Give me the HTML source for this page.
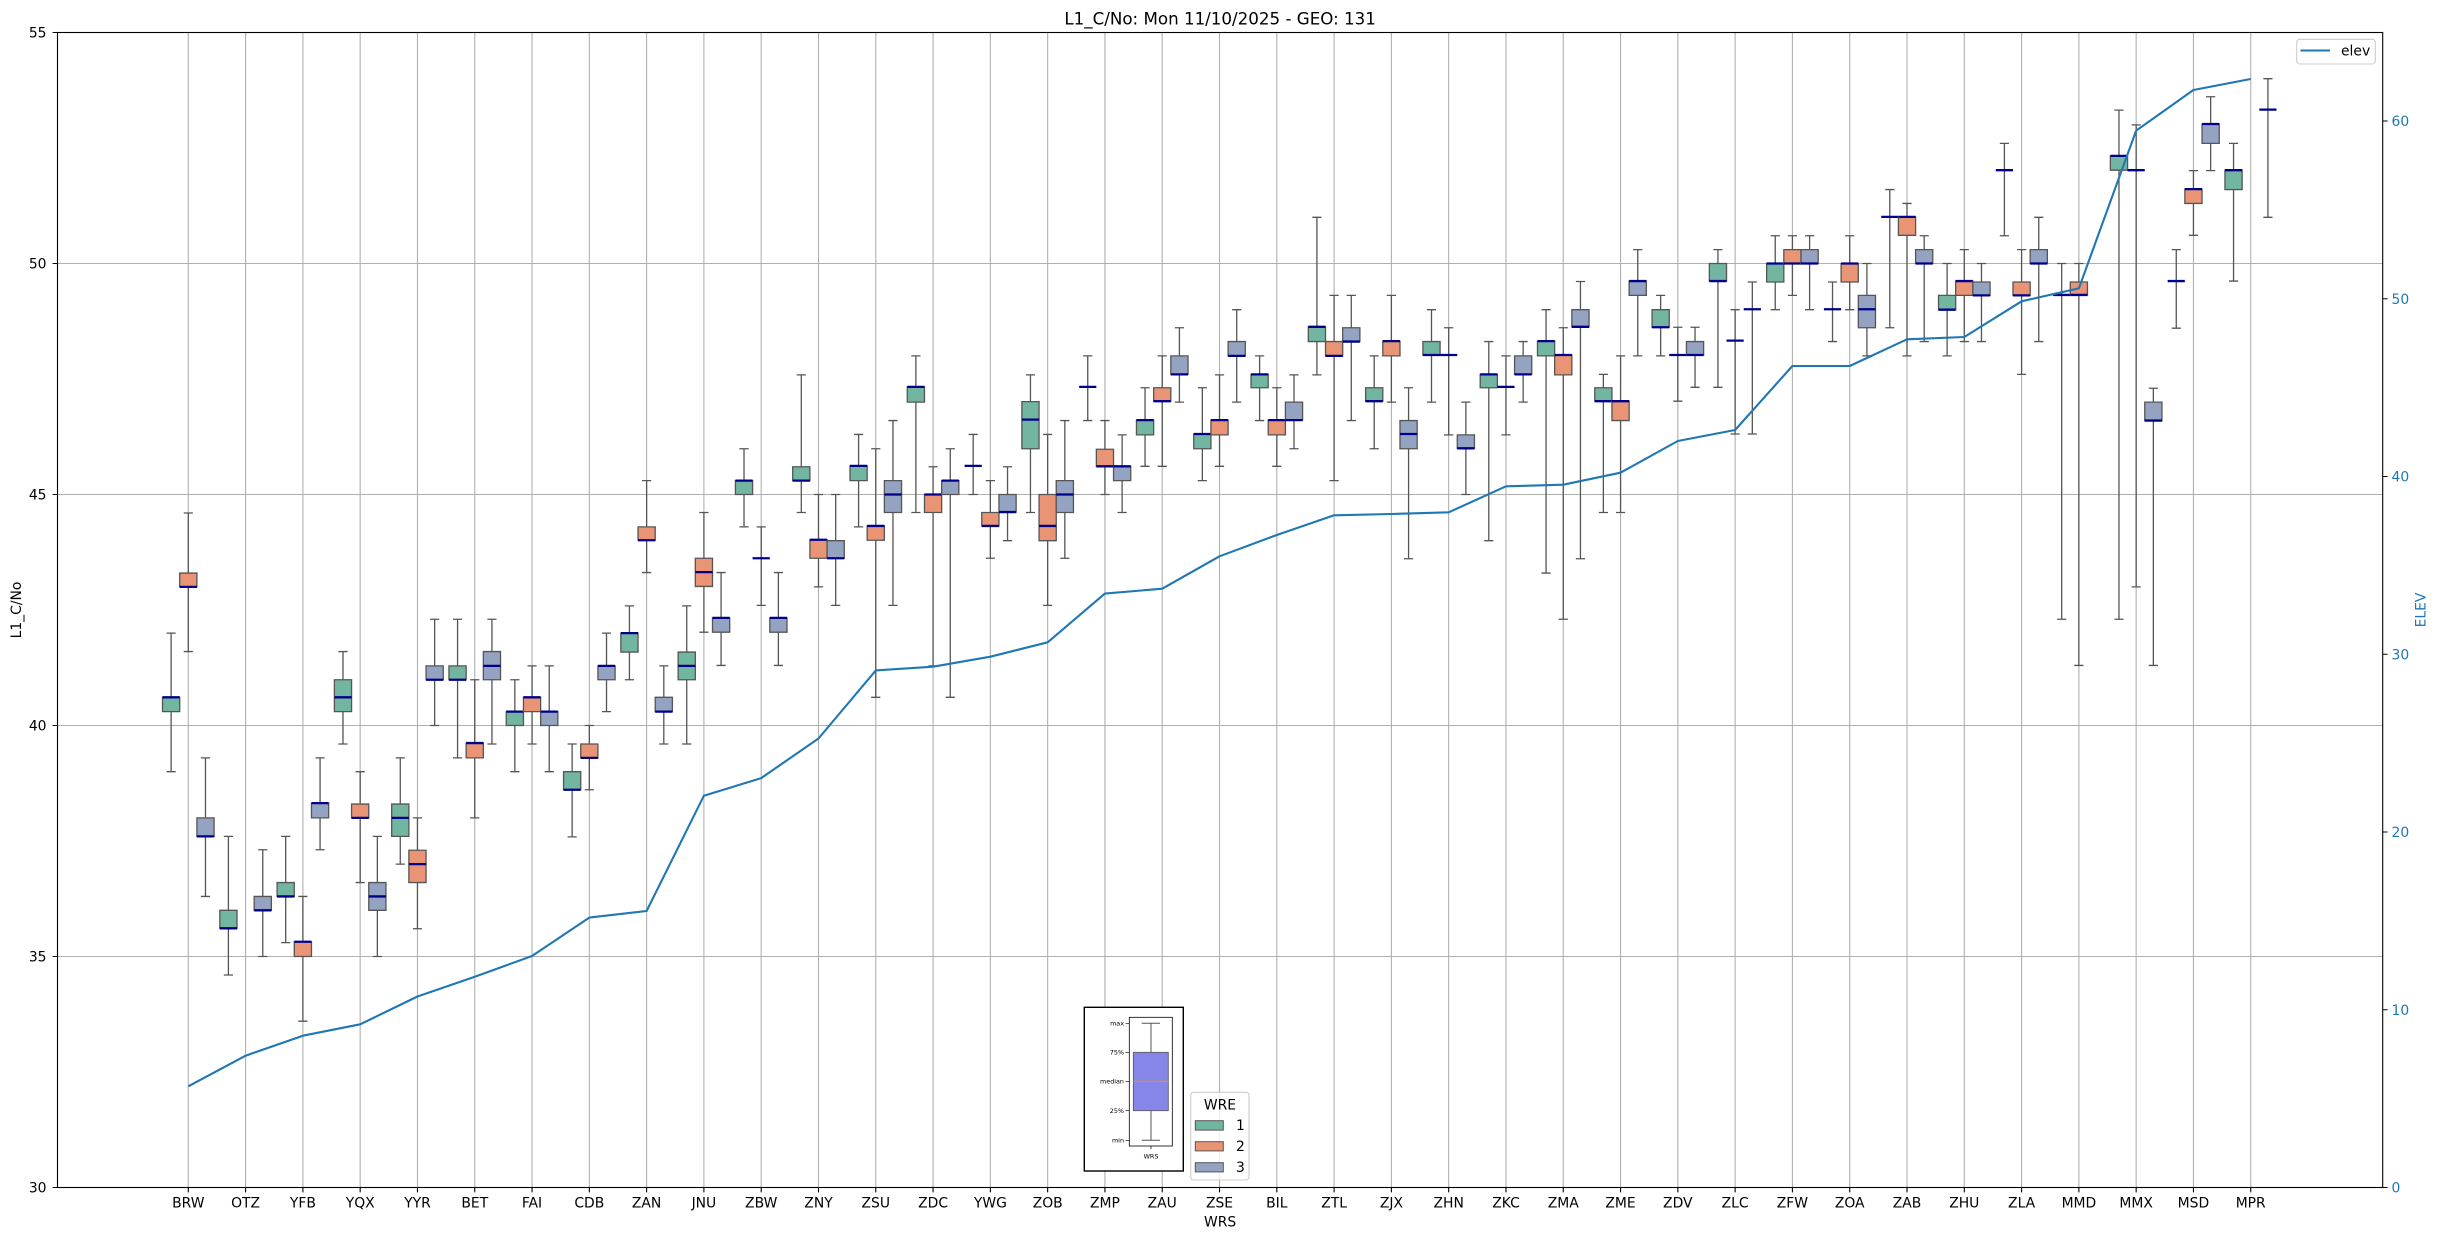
<!DOCTYPE html>
<html><head><meta charset="utf-8"><title>L1_C/No</title>
<style>
html,body{margin:0;padding:0;background:#fff;}
svg{display:block;font-family:"DejaVu Sans","Liberation Sans",sans-serif;}
#d path{fill:none;stroke:#555;stroke-width:1.3;vector-effect:non-scaling-stroke;}
#d rect{stroke:#555;stroke-width:1.3;vector-effect:non-scaling-stroke;}
#d .m{stroke:#00008b;stroke-width:2.3;}
#d .g{stroke:#b0b0b0;stroke-width:1.1;}
#d .t{stroke:#000;stroke-width:1.1;}
.a rect{fill:#72b6a1}.b rect{fill:#e99575}.c rect{fill:#95a3c3}
.tl{font-size:13.9px;fill:#000;}
.tr{font-size:13.9px;fill:#1f77b4;}
</style></head><body>
<svg width="2438" height="1240" viewBox="0 0 2438 1240" xmlns="http://www.w3.org/2000/svg">
<rect x="0" y="0" width="2438" height="1240" fill="#fff"/>
<!-- horizontal grid -->
<path d="M57.5 263.5H2382.7M57.5 494.5H2382.7M57.5 725.5H2382.7M57.5 956.5H2382.7" stroke="#b0b0b0" stroke-width="1.1" fill="none"/>
<g id="d" transform="matrix(57.29 0 0 -46.2 188.3 2573.5)">
<path class="g" d="M0 30V55M1 30V55M2 30V55M3 30V55M4 30V55M5 30V55M6 30V55M7 30V55M8 30V55M9 30V55M10 30V55M11 30V55M12 30V55M13 30V55M14 30V55M15 30V55M16 30V55M17 30V55M18 30V55M19 30V55M20 30V55M21 30V55M22 30V55M23 30V55M24 30V55M25 30V55M26 30V55M27 30V55M28 30V55M29 30V55M30 30V55M31 30V55M32 30V55M33 30V55M34 30V55M35 30V55M36 30V55"/>
<path class="t" d="M0 30V29.894M1 30V29.894M2 30V29.894M3 30V29.894M4 30V29.894M5 30V29.894M6 30V29.894M7 30V29.894M8 30V29.894M9 30V29.894M10 30V29.894M11 30V29.894M12 30V29.894M13 30V29.894M14 30V29.894M15 30V29.894M16 30V29.894M17 30V29.894M18 30V29.894M19 30V29.894M20 30V29.894M21 30V29.894M22 30V29.894M23 30V29.894M24 30V29.894M25 30V29.894M26 30V29.894M27 30V29.894M28 30V29.894M29 30V29.894M30 30V29.894M31 30V29.894M32 30V29.894M33 30V29.894M34 30V29.894M35 30V29.894M36 30V29.894"/>

<!-- BRW -->
<g transform="translate(0)">
<g class="a" transform="translate(-.3)"><path d="M-.08 39H.08M0 39V42M-.08 42H.08"/><rect x="-.15" y="40.3" width=".3" height=".31"/><path class="m" d="M-.15 40.61H.15"/></g>
<g class="b"><path d="M-.08 41.6H.08M0 41.6V44.6M-.08 44.6H.08"/><rect x="-.15" y="43" width=".3" height=".3"/><path class="m" d="M-.15 43H.15"/></g>
<g class="c" transform="translate(.3)"><path d="M-.08 36.3H.08M0 36.3V39.3M-.08 39.3H.08"/><rect x="-.15" y="37.6" width=".3" height=".4"/><path class="m" d="M-.15 37.6H.15"/></g>
</g>
<!-- OTZ -->
<g transform="translate(1)">
<g class="a" transform="translate(-.3)"><path d="M-.08 34.6H.08M0 34.6V37.6M-.08 37.6H.08"/><rect x="-.15" y="35.61" width=".3" height=".39"/><path class="m" d="M-.15 35.61H.15"/></g>
<g class="c" transform="translate(.3)"><path d="M-.08 35H.08M0 35V37.31M-.08 37.31H.08"/><rect x="-.15" y="36" width=".3" height=".3"/><path class="m" d="M-.15 36H.15"/></g>
</g>
<!-- YFB -->
<g transform="translate(2)">
<g class="a" transform="translate(-.3)"><path d="M-.08 35.3H.08M0 35.3V37.6M-.08 37.6H.08"/><rect x="-.15" y="36.3" width=".3" height=".3"/><path class="m" d="M-.15 36.3H.15"/></g>
<g class="b"><path d="M-.08 33.6H.08M0 33.6V36.3M-.08 36.3H.08"/><rect x="-.15" y="35" width=".3" height=".32"/><path class="m" d="M-.15 35.32H.15"/></g>
<g class="c" transform="translate(.3)"><path d="M-.08 37.31H.08M0 37.31V39.3M-.08 39.3H.08"/><rect x="-.15" y="38" width=".3" height=".32"/><path class="m" d="M-.15 38.32H.15"/></g>
</g>
<!-- YQX -->
<g transform="translate(3)">
<g class="a" transform="translate(-.3)"><path d="M-.08 39.6H.08M0 39.6V41.6M-.08 41.6H.08"/><rect x="-.15" y="40.3" width=".3" height=".69"/><path class="m" d="M-.15 40.61H.15"/></g>
<g class="b"><path d="M-.08 36.6H.08M0 36.6V39M-.08 39H.08"/><rect x="-.15" y="38" width=".3" height=".3"/><path class="m" d="M-.15 38H.15"/></g>
<g class="c" transform="translate(.3)"><path d="M-.08 35H.08M0 35V37.6M-.08 37.6H.08"/><rect x="-.15" y="36" width=".3" height=".6"/><path class="m" d="M-.15 36.3H.15"/></g>
</g>
<!-- YYR -->
<g transform="translate(4)">
<g class="a" transform="translate(-.3)"><path d="M-.08 37H.08M0 37V39.3M-.08 39.3H.08"/><rect x="-.15" y="37.6" width=".3" height=".7"/><path class="m" d="M-.15 38H.15"/></g>
<g class="b"><path d="M-.08 35.6H.08M0 35.6V38M-.08 38H.08"/><rect x="-.15" y="36.6" width=".3" height=".7"/><path class="m" d="M-.15 37H.15"/></g>
<g class="c" transform="translate(.3)"><path d="M-.08 40H.08M0 40V42.3M-.08 42.3H.08"/><rect x="-.15" y="40.99" width=".3" height=".3"/><path class="m" d="M-.15 40.99H.15"/></g>
</g>
<!-- BET -->
<g transform="translate(5)">
<g class="a" transform="translate(-.3)"><path d="M-.08 39.3H.08M0 39.3V42.3M-.08 42.3H.08"/><rect x="-.15" y="40.99" width=".3" height=".3"/><path class="m" d="M-.15 40.99H.15"/></g>
<g class="b"><path d="M-.08 38H.08M0 38V40.99M-.08 40.99H.08"/><rect x="-.15" y="39.3" width=".3" height=".32"/><path class="m" d="M-.15 39.62H.15"/></g>
<g class="c" transform="translate(.3)"><path d="M-.08 39.6H.08M0 39.6V42.3M-.08 42.3H.08"/><rect x="-.15" y="40.99" width=".3" height=".61"/><path class="m" d="M-.15 41.29H.15"/></g>
</g>
<!-- FAI -->
<g transform="translate(6)">
<g class="a" transform="translate(-.3)"><path d="M-.08 39H.08M0 39V40.99M-.08 40.99H.08"/><rect x="-.15" y="40" width=".3" height=".3"/><path class="m" d="M-.15 40.3H.15"/></g>
<g class="b"><path d="M-.08 39.6H.08M0 39.6V41.29M-.08 41.29H.08"/><rect x="-.15" y="40.3" width=".3" height=".31"/><path class="m" d="M-.15 40.61H.15"/></g>
<g class="c" transform="translate(.3)"><path d="M-.08 39H.08M0 39V41.29M-.08 41.29H.08"/><rect x="-.15" y="40" width=".3" height=".3"/><path class="m" d="M-.15 40.3H.15"/></g>
</g>
<!-- CDB -->
<g transform="translate(7)">
<g class="a" transform="translate(-.3)"><path d="M-.08 37.59H.08M0 37.59V39.6M-.08 39.6H.08"/><rect x="-.15" y="38.61" width=".3" height=".39"/><path class="m" d="M-.15 38.61H.15"/></g>
<g class="b"><path d="M-.08 38.61H.08M0 38.61V40M-.08 40H.08"/><rect x="-.15" y="39.3" width=".3" height=".3"/><path class="m" d="M-.15 39.3H.15"/></g>
<g class="c" transform="translate(.3)"><path d="M-.08 40.3H.08M0 40.3V42M-.08 42H.08"/><rect x="-.15" y="40.99" width=".3" height=".3"/><path class="m" d="M-.15 41.29H.15"/></g>
</g>
<!-- ZAN -->
<g transform="translate(8)">
<g class="a" transform="translate(-.3)"><path d="M-.08 40.99H.08M0 40.99V42.59M-.08 42.59H.08"/><rect x="-.15" y="41.59" width=".3" height=".41"/><path class="m" d="M-.15 42H.15"/></g>
<g class="b"><path d="M-.08 43.31H.08M0 43.31V45.3M-.08 45.3H.08"/><rect x="-.15" y="44.01" width=".3" height=".29"/><path class="m" d="M-.15 44.01H.15"/></g>
<g class="c" transform="translate(.3)"><path d="M-.08 39.6H.08M0 39.6V41.29M-.08 41.29H.08"/><rect x="-.15" y="40.3" width=".3" height=".31"/><path class="m" d="M-.15 40.3H.15"/></g>
</g>
<!-- JNU -->
<g transform="translate(9)">
<g class="a" transform="translate(-.3)"><path d="M-.08 39.6H.08M0 39.6V42.59M-.08 42.59H.08"/><rect x="-.15" y="40.99" width=".3" height=".6"/><path class="m" d="M-.15 41.29H.15"/></g>
<g class="b"><path d="M-.08 42.02H.08M0 42.02V44.61M-.08 44.61H.08"/><rect x="-.15" y="43.01" width=".3" height=".61"/><path class="m" d="M-.15 43.32H.15"/></g>
<g class="c" transform="translate(.3)"><path d="M-.08 41.3H.08M0 41.3V43.31M-.08 43.31H.08"/><rect x="-.15" y="42.02" width=".3" height=".31"/><path class="m" d="M-.15 42.33H.15"/></g>
</g>
<!-- ZBW -->
<g transform="translate(10)">
<g class="a" transform="translate(-.3)"><path d="M-.08 44.3H.08M0 44.3V45.99M-.08 45.99H.08"/><rect x="-.15" y="45" width=".3" height=".3"/><path class="m" d="M-.15 45.3H.15"/></g>
<g class="b"><path d="M-.08 42.6H.08M0 42.6V44.3M-.08 44.3H.08"/><path class="m" d="M-.15 43.62H.15"/></g>
<g class="c" transform="translate(.3)"><path d="M-.08 41.3H.08M0 41.3V43.31M-.08 43.31H.08"/><rect x="-.15" y="42.02" width=".3" height=".31"/><path class="m" d="M-.15 42.33H.15"/></g>
</g>
<!-- ZNY -->
<g transform="translate(11)">
<g class="a" transform="translate(-.3)"><path d="M-.08 44.61H.08M0 44.61V47.59M-.08 47.59H.08"/><rect x="-.15" y="45.3" width=".3" height=".3"/><path class="m" d="M-.15 45.3H.15"/></g>
<g class="b"><path d="M-.08 43H.08M0 43V45M-.08 45H.08"/><rect x="-.15" y="43.62" width=".3" height=".4"/><path class="m" d="M-.15 44.02H.15"/></g>
<g class="c" transform="translate(.3)"><path d="M-.08 42.6H.08M0 42.6V45M-.08 45H.08"/><rect x="-.15" y="43.62" width=".3" height=".38"/><path class="m" d="M-.15 43.62H.15"/></g>
</g>
<!-- ZSU -->
<g transform="translate(12)">
<g class="a" transform="translate(-.3)"><path d="M-.08 44.3H.08M0 44.3V46.3M-.08 46.3H.08"/><rect x="-.15" y="45.3" width=".3" height=".32"/><path class="m" d="M-.15 45.62H.15"/></g>
<g class="b"><path d="M-.08 40.61H.08M0 40.61V45.99M-.08 45.99H.08"/><rect x="-.15" y="44.01" width=".3" height=".31"/><path class="m" d="M-.15 44.32H.15"/></g>
<g class="c" transform="translate(.3)"><path d="M-.08 42.6H.08M0 42.6V46.6M-.08 46.6H.08"/><rect x="-.15" y="44.61" width=".3" height=".69"/><path class="m" d="M-.15 45H.15"/></g>
</g>
<!-- ZDC -->
<g transform="translate(13)">
<g class="a" transform="translate(-.3)"><path d="M-.08 44.61H.08M0 44.61V48M-.08 48H.08"/><rect x="-.15" y="47" width=".3" height=".33"/><path class="m" d="M-.15 47.33H.15"/></g>
<g class="b"><path d="M-.08 41.29H.08M0 41.29V45.6M-.08 45.6H.08"/><rect x="-.15" y="44.61" width=".3" height=".39"/><path class="m" d="M-.15 45H.15"/></g>
<g class="c" transform="translate(.3)"><path d="M-.08 40.61H.08M0 40.61V45.99M-.08 45.99H.08"/><rect x="-.15" y="45" width=".3" height=".3"/><path class="m" d="M-.15 45.3H.15"/></g>
</g>
<!-- YWG -->
<g transform="translate(14)">
<g class="a" transform="translate(-.3)"><path d="M-.08 45H.08M0 45V46.3M-.08 46.3H.08"/><path class="m" d="M-.15 45.62H.15"/></g>
<g class="b"><path d="M-.08 43.62H.08M0 43.62V45.3M-.08 45.3H.08"/><rect x="-.15" y="44.32" width=".3" height=".29"/><path class="m" d="M-.15 44.32H.15"/></g>
<g class="c" transform="translate(.3)"><path d="M-.08 44H.08M0 44V45.6M-.08 45.6H.08"/><rect x="-.15" y="44.62" width=".3" height=".38"/><path class="m" d="M-.15 44.62H.15"/></g>
</g>
<!-- ZOB -->
<g transform="translate(15)">
<g class="a" transform="translate(-.3)"><path d="M-.08 44.61H.08M0 44.61V47.59M-.08 47.59H.08"/><rect x="-.15" y="45.99" width=".3" height="1.02"/><path class="m" d="M-.15 46.62H.15"/></g>
<g class="b"><path d="M-.08 42.6H.08M0 42.6V46.3M-.08 46.3H.08"/><rect x="-.15" y="44" width=".3" height="1"/><path class="m" d="M-.15 44.32H.15"/></g>
<g class="c" transform="translate(.3)"><path d="M-.08 43.62H.08M0 43.62V46.6M-.08 46.6H.08"/><rect x="-.15" y="44.61" width=".3" height=".69"/><path class="m" d="M-.15 45H.15"/></g>
</g>
<!-- ZMP -->
<g transform="translate(16)">
<g class="a" transform="translate(-.3)"><path d="M-.08 46.6H.08M0 46.6V48M-.08 48H.08"/><path class="m" d="M-.15 47.33H.15"/></g>
<g class="b"><path d="M-.08 45H.08M0 45V46.6M-.08 46.6H.08"/><rect x="-.15" y="45.61" width=".3" height=".37"/><path class="m" d="M-.15 45.61H.15"/></g>
<g class="c" transform="translate(.3)"><path d="M-.08 44.61H.08M0 44.61V46.29M-.08 46.29H.08"/><rect x="-.15" y="45.3" width=".3" height=".31"/><path class="m" d="M-.15 45.61H.15"/></g>
</g>
<!-- ZAU -->
<g transform="translate(17)">
<g class="a" transform="translate(-.3)"><path d="M-.08 45.61H.08M0 45.61V47.31M-.08 47.31H.08"/><rect x="-.15" y="46.29" width=".3" height=".32"/><path class="m" d="M-.15 46.61H.15"/></g>
<g class="b"><path d="M-.08 45.61H.08M0 45.61V48M-.08 48H.08"/><rect x="-.15" y="47.02" width=".3" height=".29"/><path class="m" d="M-.15 47.02H.15"/></g>
<g class="c" transform="translate(.3)"><path d="M-.08 47H.08M0 47V48.61M-.08 48.61H.08"/><rect x="-.15" y="47.6" width=".3" height=".4"/><path class="m" d="M-.15 47.6H.15"/></g>
</g>
<!-- ZSE -->
<g transform="translate(18)">
<g class="a" transform="translate(-.3)"><path d="M-.08 45.3H.08M0 45.3V47.31M-.08 47.31H.08"/><rect x="-.15" y="45.99" width=".3" height=".32"/><path class="m" d="M-.15 46.31H.15"/></g>
<g class="b"><path d="M-.08 45.61H.08M0 45.61V47.59M-.08 47.59H.08"/><rect x="-.15" y="46.29" width=".3" height=".32"/><path class="m" d="M-.15 46.61H.15"/></g>
<g class="c" transform="translate(.3)"><path d="M-.08 47H.08M0 47V49M-.08 49H.08"/><rect x="-.15" y="48" width=".3" height=".31"/><path class="m" d="M-.15 48H.15"/></g>
</g>
<!-- BIL -->
<g transform="translate(19)">
<g class="a" transform="translate(-.3)"><path d="M-.08 46.6H.08M0 46.6V48M-.08 48H.08"/><rect x="-.15" y="47.31" width=".3" height=".29"/><path class="m" d="M-.15 47.6H.15"/></g>
<g class="b"><path d="M-.08 45.61H.08M0 45.61V47.31M-.08 47.31H.08"/><rect x="-.15" y="46.29" width=".3" height=".32"/><path class="m" d="M-.15 46.61H.15"/></g>
<g class="c" transform="translate(.3)"><path d="M-.08 45.99H.08M0 45.99V47.59M-.08 47.59H.08"/><rect x="-.15" y="46.61" width=".3" height=".39"/><path class="m" d="M-.15 46.61H.15"/></g>
</g>
<!-- ZTL -->
<g transform="translate(20)">
<g class="a" transform="translate(-.3)"><path d="M-.08 47.59H.08M0 47.59V51M-.08 51H.08"/><rect x="-.15" y="48.31" width=".3" height=".32"/><path class="m" d="M-.15 48.63H.15"/></g>
<g class="b"><path d="M-.08 45.3H.08M0 45.3V49.31M-.08 49.31H.08"/><rect x="-.15" y="48" width=".3" height=".31"/><path class="m" d="M-.15 48H.15"/></g>
<g class="c" transform="translate(.3)"><path d="M-.08 46.6H.08M0 46.6V49.31M-.08 49.31H.08"/><rect x="-.15" y="48.31" width=".3" height=".3"/><path class="m" d="M-.15 48.31H.15"/></g>
</g>
<!-- ZJX -->
<g transform="translate(21)">
<g class="a" transform="translate(-.3)"><path d="M-.08 45.99H.08M0 45.99V48M-.08 48H.08"/><rect x="-.15" y="47.02" width=".3" height=".29"/><path class="m" d="M-.15 47.02H.15"/></g>
<g class="b"><path d="M-.08 47H.08M0 47V49.31M-.08 49.31H.08"/><rect x="-.15" y="48" width=".3" height=".32"/><path class="m" d="M-.15 48.32H.15"/></g>
<g class="c" transform="translate(.3)"><path d="M-.08 43.61H.08M0 43.61V47.31M-.08 47.31H.08"/><rect x="-.15" y="45.99" width=".3" height=".61"/><path class="m" d="M-.15 46.31H.15"/></g>
</g>
<!-- ZHN -->
<g transform="translate(22)">
<g class="a" transform="translate(-.3)"><path d="M-.08 47H.08M0 47V49M-.08 49H.08"/><rect x="-.15" y="48.02" width=".3" height=".29"/><path class="m" d="M-.15 48.02H.15"/></g>
<g class="b"><path d="M-.08 46.29H.08M0 46.29V48.61M-.08 48.61H.08"/><path class="m" d="M-.15 48.02H.15"/></g>
<g class="c" transform="translate(.3)"><path d="M-.08 45H.08M0 45V47M-.08 47H.08"/><rect x="-.15" y="46" width=".3" height=".29"/><path class="m" d="M-.15 46H.15"/></g>
</g>
<!-- ZKC -->
<g transform="translate(23)">
<g class="a" transform="translate(-.3)"><path d="M-.08 44H.08M0 44V48.31M-.08 48.31H.08"/><rect x="-.15" y="47.31" width=".3" height=".29"/><path class="m" d="M-.15 47.6H.15"/></g>
<g class="b"><path d="M-.08 46.29H.08M0 46.29V48M-.08 48H.08"/><path class="m" d="M-.15 47.33H.15"/></g>
<g class="c" transform="translate(.3)"><path d="M-.08 47H.08M0 47V48.31M-.08 48.31H.08"/><rect x="-.15" y="47.6" width=".3" height=".4"/><path class="m" d="M-.15 47.6H.15"/></g>
</g>
<!-- ZMA -->
<g transform="translate(24)">
<g class="a" transform="translate(-.3)"><path d="M-.08 43.3H.08M0 43.3V49M-.08 49H.08"/><rect x="-.15" y="48" width=".3" height=".32"/><path class="m" d="M-.15 48.32H.15"/></g>
<g class="b"><path d="M-.08 42.3H.08M0 42.3V48.61M-.08 48.61H.08"/><rect x="-.15" y="47.59" width=".3" height=".43"/><path class="m" d="M-.15 48.02H.15"/></g>
<g class="c" transform="translate(.3)"><path d="M-.08 43.61H.08M0 43.61V49.61M-.08 49.61H.08"/><rect x="-.15" y="48.63" width=".3" height=".37"/><path class="m" d="M-.15 48.63H.15"/></g>
</g>
<!-- ZME -->
<g transform="translate(25)">
<g class="a" transform="translate(-.3)"><path d="M-.08 44.61H.08M0 44.61V47.6M-.08 47.6H.08"/><rect x="-.15" y="47.02" width=".3" height=".29"/><path class="m" d="M-.15 47.02H.15"/></g>
<g class="b"><path d="M-.08 44.61H.08M0 44.61V48M-.08 48H.08"/><rect x="-.15" y="46.6" width=".3" height=".42"/><path class="m" d="M-.15 47.02H.15"/></g>
<g class="c" transform="translate(.3)"><path d="M-.08 48H.08M0 48V50.3M-.08 50.3H.08"/><rect x="-.15" y="49.31" width=".3" height=".31"/><path class="m" d="M-.15 49.62H.15"/></g>
</g>
<!-- ZDV -->
<g transform="translate(26)">
<g class="a" transform="translate(-.3)"><path d="M-.08 48H.08M0 48V49.31M-.08 49.31H.08"/><rect x="-.15" y="48.62" width=".3" height=".38"/><path class="m" d="M-.15 48.62H.15"/></g>
<g class="b"><path d="M-.08 47.02H.08M0 47.02V48.62M-.08 48.62H.08"/><path class="m" d="M-.15 48.02H.15"/></g>
<g class="c" transform="translate(.3)"><path d="M-.08 47.32H.08M0 47.32V48.62M-.08 48.62H.08"/><rect x="-.15" y="48.02" width=".3" height=".29"/><path class="m" d="M-.15 48.02H.15"/></g>
</g>
<!-- ZLC -->
<g transform="translate(27)">
<g class="a" transform="translate(-.3)"><path d="M-.08 47.32H.08M0 47.32V50.3M-.08 50.3H.08"/><rect x="-.15" y="49.62" width=".3" height=".38"/><path class="m" d="M-.15 49.62H.15"/></g>
<g class="b"><path d="M-.08 46.31H.08M0 46.31V49M-.08 49H.08"/><path class="m" d="M-.15 48.33H.15"/></g>
<g class="c" transform="translate(.3)"><path d="M-.08 46.31H.08M0 46.31V49.6M-.08 49.6H.08"/><path class="m" d="M-.15 49.01H.15"/></g>
</g>
<!-- ZFW -->
<g transform="translate(28)">
<g class="a" transform="translate(-.3)"><path d="M-.08 49H.08M0 49V50.6M-.08 50.6H.08"/><rect x="-.15" y="49.6" width=".3" height=".4"/><path class="m" d="M-.15 50H.15"/></g>
<g class="b"><path d="M-.08 49.31H.08M0 49.31V50.6M-.08 50.6H.08"/><rect x="-.15" y="50" width=".3" height=".3"/><path class="m" d="M-.15 50H.15"/></g>
<g class="c" transform="translate(.3)"><path d="M-.08 49H.08M0 49V50.6M-.08 50.6H.08"/><rect x="-.15" y="50" width=".3" height=".3"/><path class="m" d="M-.15 50H.15"/></g>
</g>
<!-- ZOA -->
<g transform="translate(29)">
<g class="a" transform="translate(-.3)"><path d="M-.08 48.31H.08M0 48.31V49.6M-.08 49.6H.08"/><path class="m" d="M-.15 49.01H.15"/></g>
<g class="b"><path d="M-.08 49H.08M0 49V50.6M-.08 50.6H.08"/><rect x="-.15" y="49.6" width=".3" height=".4"/><path class="m" d="M-.15 50H.15"/></g>
<g class="c" transform="translate(.3)"><path d="M-.08 48H.08M0 48V50M-.08 50H.08"/><rect x="-.15" y="48.61" width=".3" height=".7"/><path class="m" d="M-.15 49.01H.15"/></g>
</g>
<!-- ZAB -->
<g transform="translate(30)">
<g class="a" transform="translate(-.3)"><path d="M-.08 48.61H.08M0 48.61V51.6M-.08 51.6H.08"/><path class="m" d="M-.15 51.01H.15"/></g>
<g class="b"><path d="M-.08 48H.08M0 48V51.3M-.08 51.3H.08"/><rect x="-.15" y="50.61" width=".3" height=".4"/><path class="m" d="M-.15 51.01H.15"/></g>
<g class="c" transform="translate(.3)"><path d="M-.08 48.31H.08M0 48.31V50.6M-.08 50.6H.08"/><rect x="-.15" y="50" width=".3" height=".3"/><path class="m" d="M-.15 50H.15"/></g>
</g>
<!-- ZHU -->
<g transform="translate(31)">
<g class="a" transform="translate(-.3)"><path d="M-.08 48H.08M0 48V50M-.08 50H.08"/><rect x="-.15" y="49" width=".3" height=".31"/><path class="m" d="M-.15 49H.15"/></g>
<g class="b"><path d="M-.08 48.31H.08M0 48.31V50.3M-.08 50.3H.08"/><rect x="-.15" y="49.31" width=".3" height=".31"/><path class="m" d="M-.15 49.62H.15"/></g>
<g class="c" transform="translate(.3)"><path d="M-.08 48.31H.08M0 48.31V50M-.08 50H.08"/><rect x="-.15" y="49.31" width=".3" height=".29"/><path class="m" d="M-.15 49.31H.15"/></g>
</g>
<!-- ZLA -->
<g transform="translate(32)">
<g class="a" transform="translate(-.3)"><path d="M-.08 50.6H.08M0 50.6V52.6M-.08 52.6H.08"/><path class="m" d="M-.15 52.02H.15"/></g>
<g class="b"><path d="M-.08 47.6H.08M0 47.6V50.3M-.08 50.3H.08"/><rect x="-.15" y="49.31" width=".3" height=".29"/><path class="m" d="M-.15 49.31H.15"/></g>
<g class="c" transform="translate(.3)"><path d="M-.08 48.31H.08M0 48.31V51M-.08 51H.08"/><rect x="-.15" y="50" width=".3" height=".3"/><path class="m" d="M-.15 50H.15"/></g>
</g>
<!-- MMD -->
<g transform="translate(33)">
<g class="a" transform="translate(-.3)"><path d="M-.08 42.3H.08M0 42.3V50M-.08 50H.08"/><path class="m" d="M-.15 49.32H.15"/></g>
<g class="b"><path d="M-.08 41.3H.08M0 41.3V50M-.08 50H.08"/><rect x="-.15" y="49.32" width=".3" height=".28"/><path class="m" d="M-.15 49.32H.15"/></g>
</g>
<!-- MMX -->
<g transform="translate(34)">
<g class="a" transform="translate(-.3)"><path d="M-.08 42.3H.08M0 42.3V53.32M-.08 53.32H.08"/><rect x="-.15" y="52.02" width=".3" height=".31"/><path class="m" d="M-.15 52.33H.15"/></g>
<g class="b"><path d="M-.08 43H.08M0 43V53M-.08 53H.08"/><path class="m" d="M-.15 52.02H.15"/></g>
<g class="c" transform="translate(.3)"><path d="M-.08 41.3H.08M0 41.3V47.3M-.08 47.3H.08"/><rect x="-.15" y="46.6" width=".3" height=".4"/><path class="m" d="M-.15 46.6H.15"/></g>
</g>
<!-- MSD -->
<g transform="translate(35)">
<g class="a" transform="translate(-.3)"><path d="M-.08 48.6H.08M0 48.6V50.3M-.08 50.3H.08"/><path class="m" d="M-.15 49.62H.15"/></g>
<g class="b"><path d="M-.08 50.61H.08M0 50.61V52.01M-.08 52.01H.08"/><rect x="-.15" y="51.3" width=".3" height=".31"/><path class="m" d="M-.15 51.61H.15"/></g>
<g class="c" transform="translate(.3)"><path d="M-.08 52.01H.08M0 52.01V53.61M-.08 53.61H.08"/><rect x="-.15" y="52.6" width=".3" height=".42"/><path class="m" d="M-.15 53.02H.15"/></g>
</g>
<!-- MPR -->
<g transform="translate(36)">
<g class="a" transform="translate(-.3)"><path d="M-.08 49.62H.08M0 49.62V52.6M-.08 52.6H.08"/><rect x="-.15" y="51.6" width=".3" height=".42"/><path class="m" d="M-.15 52.02H.15"/></g>
<g class="c" transform="translate(.3)"><path d="M-.08 51H.08M0 51V54M-.08 54H.08"/><path class="m" d="M-.15 53.33H.15"/></g>
</g>
</g>

<!-- elev line -->
<polyline fill="none" stroke="#1f77b4" stroke-width="2.1" stroke-linejoin="round" points="188.3,1086.3 245.6,1055.7 302.9,1035.7 360.2,1024.3 417.5,996.5 474.8,976.7 532,956 589.3,917.6 646.6,911 703.9,795.7 761.2,778.1 818.5,738.5 875.8,670.4 933.1,666.7 990.4,656.7 1047.7,642.3 1104.9,593.6 1162.2,588.7 1219.5,556.3 1276.8,535 1334.1,515.3 1391.4,514 1448.7,512.3 1506,486.3 1563.3,484.7 1620.5,472.7 1677.8,441 1735.1,430 1792.4,366 1849.7,366 1907,339.3 1964.3,337 2021.6,301.3 2078.9,288.3 2136.1,130.7 2193.4,90 2250.7,79"/>

<!-- axes frame -->
<rect x="57.5" y="32.5" width="2325.2" height="1155" fill="none" stroke="#000" stroke-width="1.1"/>
<!-- left ticks -->
<path d="M52.6 32.5H57.5M52.6 263.5H57.5M52.6 494.5H57.5M52.6 725.5H57.5M52.6 956.5H57.5M52.6 1187.5H57.5" stroke="#000" stroke-width="1.1"/>
<g class="tl" text-anchor="end">
<text x="46.5" y="37.5">55</text>
<text x="46.5" y="268.5">50</text>
<text x="46.5" y="499.5">45</text>
<text x="46.5" y="730.5">40</text>
<text x="46.5" y="961.5">35</text>
<text x="46.5" y="1192.5">30</text>
</g>
<!-- right ticks -->
<path d="M2382.7 1187.5h4.9M2382.7 1009.75h4.9M2382.7 832h4.9M2382.7 654.25h4.9M2382.7 476.5h4.9M2382.7 298.75h4.9M2382.7 121h4.9" stroke="#000" stroke-width="1.1"/>
<g class="tr">
<text x="2391.5" y="1192.5">0</text>
<text x="2391.5" y="1014.75">10</text>
<text x="2391.5" y="837">20</text>
<text x="2391.5" y="659.25">30</text>
<text x="2391.5" y="481.5">40</text>
<text x="2391.5" y="303.75">50</text>
<text x="2391.5" y="126">60</text>
</g>
<!-- x tick labels -->
<g class="tl" text-anchor="middle">
<text x="188.3" y="1207.4">BRW</text>
<text x="245.6" y="1207.4">OTZ</text>
<text x="302.9" y="1207.4">YFB</text>
<text x="360.2" y="1207.4">YQX</text>
<text x="417.5" y="1207.4">YYR</text>
<text x="474.8" y="1207.4">BET</text>
<text x="532" y="1207.4">FAI</text>
<text x="589.3" y="1207.4">CDB</text>
<text x="646.6" y="1207.4">ZAN</text>
<text x="703.9" y="1207.4">JNU</text>
<text x="761.2" y="1207.4">ZBW</text>
<text x="818.5" y="1207.4">ZNY</text>
<text x="875.8" y="1207.4">ZSU</text>
<text x="933.1" y="1207.4">ZDC</text>
<text x="990.4" y="1207.4">YWG</text>
<text x="1047.7" y="1207.4">ZOB</text>
<text x="1104.9" y="1207.4">ZMP</text>
<text x="1162.2" y="1207.4">ZAU</text>
<text x="1219.5" y="1207.4">ZSE</text>
<text x="1276.8" y="1207.4">BIL</text>
<text x="1334.1" y="1207.4">ZTL</text>
<text x="1391.4" y="1207.4">ZJX</text>
<text x="1448.7" y="1207.4">ZHN</text>
<text x="1506" y="1207.4">ZKC</text>
<text x="1563.3" y="1207.4">ZMA</text>
<text x="1620.5" y="1207.4">ZME</text>
<text x="1677.8" y="1207.4">ZDV</text>
<text x="1735.1" y="1207.4">ZLC</text>
<text x="1792.4" y="1207.4">ZFW</text>
<text x="1849.7" y="1207.4">ZOA</text>
<text x="1907" y="1207.4">ZAB</text>
<text x="1964.3" y="1207.4">ZHU</text>
<text x="2021.6" y="1207.4">ZLA</text>
<text x="2078.9" y="1207.4">MMD</text>
<text x="2136.1" y="1207.4">MMX</text>
<text x="2193.4" y="1207.4">MSD</text>
<text x="2250.7" y="1207.4">MPR</text>
<text x="1220.1" y="1226.6">WRS</text>
</g>
<!-- axis labels & title -->
<text class="tl" text-anchor="middle" transform="translate(21,610) rotate(-90)">L1_C/No</text>
<text class="tr" text-anchor="middle" transform="translate(2425.5,610) rotate(-90)">ELEV</text>
<text x="1220.1" y="24.4" text-anchor="middle" style="font-size:16.7px;fill:#000">L1_C/No: Mon 11/10/2025 - GEO: 131</text>

<!-- elev legend -->
<rect x="2296.7" y="39.3" width="78.6" height="24.7" rx="3" ry="3" fill="#fff" fill-opacity="0.8" stroke="#cccccc" stroke-width="1.1"/>
<path d="M2300.5 50.5H2330" stroke="#1f77b4" stroke-width="2.1"/>
<text class="tl" x="2341" y="55.6">elev</text>

<!-- inset explanatory box -->
<rect x="1084.3" y="1007.3" width="99" height="163.7" fill="#fff" stroke="#000" stroke-width="1.4"/>
<rect x="1129.3" y="1017.3" width="43" height="128.7" fill="none" stroke="#000" stroke-width="0.8"/>
<path d="M1141.7 1023.3H1160M1151 1023.3V1140.3M1141.7 1140.3H1160" stroke="#555" stroke-width="1" fill="none"/>
<rect x="1133.3" y="1052.3" width="35" height="58.4" fill="#8686e8" stroke="#555" stroke-width="0.8"/>
<path d="M1133.3 1081.3H1168.3" stroke="#ff8c00" stroke-width="1"/>
<path d="M1125.5 1023.3h3.8M1125.5 1052.3h3.8M1125.5 1081.3h3.8M1125.5 1110.7h3.8M1125.5 1140.3h3.8M1151 1146v3" stroke="#000" stroke-width="0.7"/>
<g style="font-size:6.4px;fill:#000" text-anchor="end">
<text x="1124" y="1025.6">max</text>
<text x="1124" y="1054.6">75%</text>
<text x="1124" y="1083.6">median</text>
<text x="1124" y="1113">25%</text>
<text x="1124" y="1142.6">min</text>
</g>
<text x="1151" y="1158.3" text-anchor="middle" style="font-size:6.4px;fill:#000">WRS</text>

<!-- WRE legend -->
<rect x="1190.7" y="1092.3" width="58.3" height="87.7" rx="3" ry="3" fill="#fff" fill-opacity="0.8" stroke="#cccccc" stroke-width="1.1"/>
<text class="tl" x="1220" y="1109.3" text-anchor="middle">WRE</text>
<rect x="1195.3" y="1120.7" width="28" height="9.4" fill="#72b6a1" stroke="#555" stroke-width="1"/>
<rect x="1195.3" y="1141.7" width="28" height="9.2" fill="#e99575" stroke="#555" stroke-width="1"/>
<rect x="1195.3" y="1162.7" width="28" height="9.2" fill="#95a3c3" stroke="#555" stroke-width="1"/>
<text class="tl" x="1236" y="1130.2">1</text>
<text class="tl" x="1236" y="1151.2">2</text>
<text class="tl" x="1236" y="1172.2">3</text>
</svg>
</body></html>
